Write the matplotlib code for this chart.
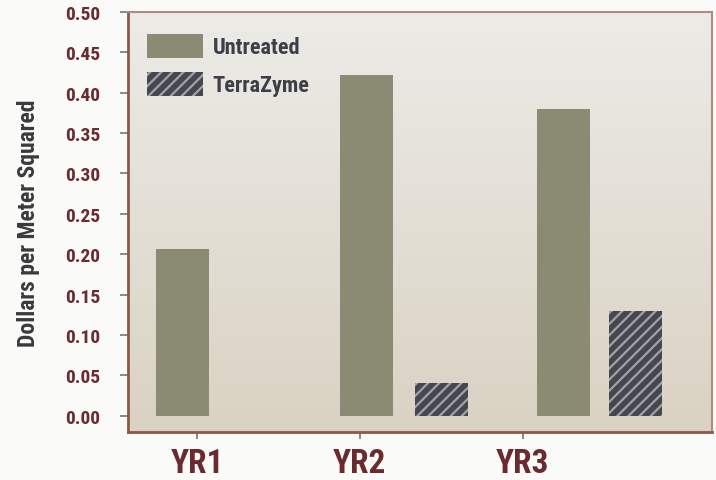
import numpy as np
import matplotlib.pyplot as plt
from matplotlib.patches import Patch

years = ['YR1', 'YR2', 'YR3']
untreated = [0.207, 0.422, 0.380]
terrazyme = [0.0, 0.041, 0.130]
yticks = [0.00, 0.05, 0.10, 0.15, 0.20, 0.25, 0.30, 0.35, 0.40, 0.45, 0.50]

# bar offsets from each year tick (the original chart is not symmetric)
untreated_off = [-0.09, 0.04, 0.25]
terrazyme_off = [0.41, 0.50, 0.69]
bar_w = 0.325

maroon = '#6b2b2e'
bar_color = '#8b8a73'
hatch_face = '#46474e'
font = ['Liberation Sans Narrow', 'Roboto Condensed', 'DejaVu Sans']

plt.rcParams['hatch.linewidth'] = 1.6

fig = plt.figure(figsize=(7.16, 4.81), dpi=100, facecolor='#fafaf8')
ax = fig.add_axes([0.179, 0.100, 0.815, 0.873])

# background gradient, light at top, beige at bottom
top = np.array([0.925, 0.922, 0.905])
bot = np.array([0.855, 0.825, 0.765])
t = np.linspace(0, 1, 256)[:, None]
grad = (top * (1 - t) + bot * t)[:, None, :]
ax.imshow(grad, aspect='auto', extent=[-0.423, 3.16, -0.02, 0.50], zorder=0)

x = np.arange(len(years))
ax.bar(x + np.array(untreated_off), untreated, width=bar_w, color=bar_color,
       linewidth=0, zorder=2, label='Untreated')
ax.bar(x + np.array(terrazyme_off), terrazyme, width=bar_w, color=hatch_face,
       edgecolor='#a0a2aa', hatch='///', linewidth=0, zorder=2, label='TerraZyme')

ax.set_xlim(-0.423, 3.16)
ax.set_ylim(-0.02, 0.50)
ax.set_yticks(yticks)
ax.set_yticklabels([f'{v:.2f}' for v in yticks], color=maroon, fontsize=14,
                   fontweight='bold', family=font, fontstretch='condensed')
ax.set_xticks(x)
ax.set_xticklabels(years, color=maroon, fontsize=24, fontweight='bold', family=font,
                   fontstretch='condensed')
ax.tick_params(axis='y', length=6, width=1.2, color='#777777', pad=14, direction='out')
ax.tick_params(axis='x', length=5, width=1.2, color='#777777', pad=6)
ax.set_ylabel('Dollars per Meter Squared', fontsize=17, fontweight='bold',
              color='#3a3a3a', family=font, fontstretch='condensed', labelpad=18)

for side in ['left', 'bottom']:
    ax.spines[side].set_color('#8a5a48')
    ax.spines[side].set_linewidth(2)
for side in ['top', 'right']:
    ax.spines[side].set_color('#b08c80')
    ax.spines[side].set_linewidth(1.5)

handles = [Patch(facecolor=bar_color, linewidth=0),
           Patch(facecolor=hatch_face, edgecolor='#a0a2aa', hatch='///', linewidth=0)]
leg = ax.legend(handles, ['Untreated', 'TerraZyme'], loc='upper left', frameon=False,
                bbox_to_anchor=(0.0, 0.993), handlelength=2.5, handleheight=1.3,
                labelspacing=0.6, borderaxespad=0.45, handletextpad=0.45,
                prop={'family': font, 'weight': 'bold', 'size': 16,
                      'stretch': 'condensed'})
for txt in leg.get_texts():
    txt.set_color('#3e3e48')

fig.savefig('out.png', dpi=100, facecolor=fig.get_facecolor())
